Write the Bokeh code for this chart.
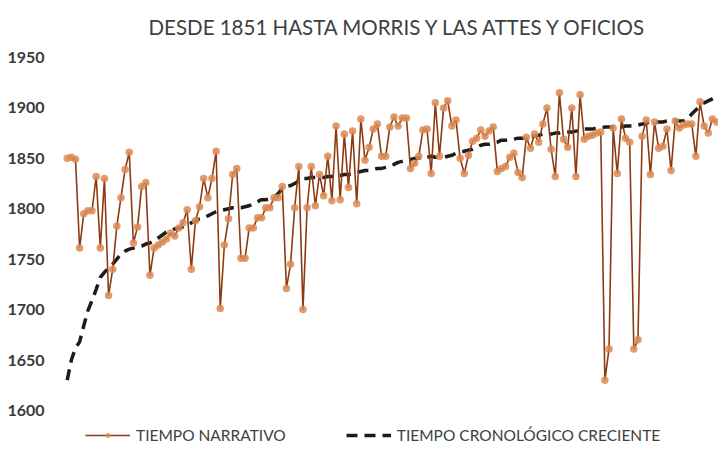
from bokeh.plotting import figure
from bokeh.models import Range1d, FixedTicker, Legend, LegendItem, ColumnDataSource
from bokeh.embed import file_html
from bokeh.resources import INLINE

title_text = "DESDE 1851 HASTA MORRIS Y LAS ATTES Y OFICIOS"
series_narrativo = "TIEMPO NARRATIVO"
series_cronologico = "TIEMPO CRONOLÓGICO CRECIENTE"

y_ticks = [1600, 1650, 1700, 1750, 1800, 1850, 1900, 1950]

tiempo_narrativo = [
    1850, 1851, 1849, 1761, 1795, 1798, 1798, 1832, 1761, 1830,
    1714, 1740, 1783, 1811, 1839, 1856, 1766, 1782, 1822, 1826,
    1734, 1761, 1764, 1767, 1770, 1776, 1773, 1781, 1786, 1799,
    1740, 1788, 1802, 1830, 1811, 1830, 1857, 1701, 1764, 1790,
    1834, 1840, 1751, 1751, 1781, 1781, 1791, 1791, 1801, 1801,
    1811, 1811, 1822, 1721, 1745, 1801, 1842, 1700, 1801, 1842,
    1803, 1834, 1813, 1852, 1808, 1882, 1809, 1874, 1821, 1877,
    1805, 1889, 1848, 1861, 1879, 1884, 1852, 1852, 1881, 1891,
    1882, 1890, 1890, 1840, 1845, 1852, 1878, 1879, 1835, 1905,
    1852, 1900, 1907, 1882, 1888, 1850, 1835, 1853, 1867, 1870,
    1878, 1872, 1877, 1881, 1837, 1840, 1842, 1851, 1855, 1836,
    1831, 1871, 1860, 1874, 1866, 1884, 1900, 1859, 1832, 1915,
    1869, 1861, 1900, 1832, 1913, 1869, 1872, 1873, 1875, 1876,
    1630, 1661, 1880, 1835, 1889, 1870, 1866, 1661, 1670, 1872,
    1888, 1834, 1886, 1860, 1862, 1879, 1838, 1887, 1880, 1883,
    1884, 1884, 1852, 1906, 1882, 1875, 1889, 1886,
]

tiempo_cronologico = [
    1630, 1650, 1662, 1668, 1684, 1699, 1709, 1720, 1732, 1737,
    1741, 1745, 1750, 1755, 1758, 1760, 1761, 1762, 1763, 1765,
    1766, 1768, 1771, 1774, 1777, 1778, 1780, 1781, 1782, 1784,
    1786, 1788, 1790, 1791, 1793, 1795, 1797, 1798, 1799, 1800,
    1801, 1801, 1801, 1802, 1803, 1805, 1807, 1809, 1809, 1810,
    1811, 1815, 1820, 1822, 1823, 1825, 1828, 1830, 1830, 1831,
    1831, 1831, 1831, 1832, 1832, 1833, 1833, 1834, 1834, 1835,
    1836, 1837, 1838, 1838, 1839, 1840, 1840, 1841, 1842, 1844,
    1846, 1847, 1848, 1849, 1850, 1850, 1851, 1851, 1852, 1851,
    1851, 1851, 1852, 1853, 1855, 1856, 1857, 1858, 1859, 1861,
    1863, 1864, 1864, 1865, 1866, 1868, 1868, 1869, 1869, 1870,
    1870, 1870, 1871, 1872, 1873, 1874, 1874, 1874, 1875, 1875,
    1876, 1876, 1876, 1877, 1878, 1879, 1879, 1879, 1880, 1880,
    1881, 1881, 1881, 1881, 1881, 1882, 1882, 1882, 1883, 1884,
    1885, 1886, 1886, 1886, 1886, 1887, 1887, 1887, 1887, 1887,
    1889, 1894, 1898, 1902, 1905, 1907, 1909, 1911,
]

indices = list(range(1, len(tiempo_narrativo) + 1))

src = ColumnDataSource(dict(x=indices, nar=tiempo_narrativo, cro=tiempo_cronologico))

FONT = "Lato"
TXT = "#404040"

p = figure(
    width=718, height=450,
    output_backend="svg", toolbar_location=None,
    x_range=Range1d(-0.14, 158.47),
    y_range=Range1d(1560.3, 1958.9),
    min_border_left=62, min_border_right=0, min_border_top=48, min_border_bottom=0,
)
p.title.text = title_text
p.title.align = "left"
p.title.offset = 86
p.title.text_font = FONT
p.title.text_font_style = "normal"
p.title.text_font_size = "20.5px"
p.title.text_color = TXT
p.title.standoff = 20

p.outline_line_color = None
p.xgrid.visible = False
p.ygrid.visible = False
p.xaxis.visible = False

ya = p.yaxis[0]
ya.ticker = FixedTicker(ticks=y_ticks)
ya.axis_line_color = None
ya.major_tick_line_color = None
ya.minor_tick_line_color = None
ya.major_label_standoff = 12
ya.major_label_text_font = FONT
ya.major_label_text_font_style = "bold"
ya.major_label_text_font_size = "16px"
ya.major_label_text_color = "#3a3a3a"

r_cro = p.line("x", "cro", source=src, line_color="#1c1c1c", line_width=3.5,
               line_dash="11 7")
r_line = p.line("x", "nar", source=src, line_color="#8B3A12", line_width=1.6)
r_pts = p.scatter("x", "nar", source=src, size=7.5, fill_color="#DC8A52",
                  fill_alpha=0.85, line_color=None)

legend = Legend(
    items=[
        LegendItem(label=series_narrativo, renderers=[r_line, r_pts]),
        LegendItem(label=series_cronologico, renderers=[r_cro]),
    ],
    orientation="horizontal",
    location=(23, 6),
    padding=0, margin=0, spacing=60,
    glyph_width=45, glyph_height=12, label_height=12, label_standoff=6,
    label_text_font=FONT, label_text_font_size="15.5px", label_text_color=TXT,
    border_line_color=None, background_fill_alpha=0,
)
p.add_layout(legend, "center")

open("out.html", "w").write(file_html(p, INLINE))
